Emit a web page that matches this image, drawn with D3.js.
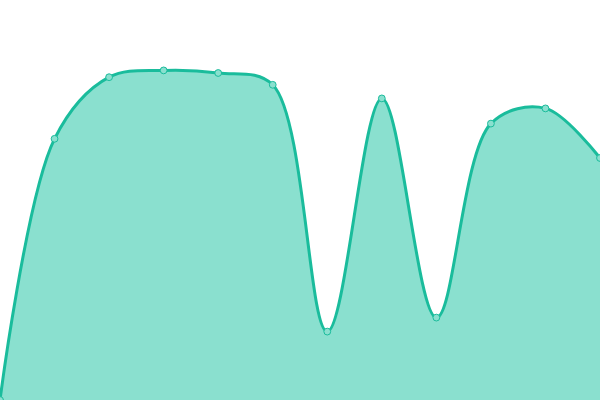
<!DOCTYPE html>
<html>
<head>
<meta charset="utf-8">
<script src="https://cdn.jsdelivr.net/npm/d3@7"></script>
<style>
  html, body { margin: 0; padding: 0; background: #fff; }
  svg { display: block; }
</style>
</head>
<body>
<div class="chart"></div>
<script>
/*** DATA ***/
const categories = [0, 1, 2, 3, 4, 5, 6, 7, 8, 9, 10, 11];
const values = [0, 65.3, 80.7, 82.4, 81.75, 78.8, 17.1, 75.4, 20.6, 69.1, 72.9, 60.5];

/*** DRAW ***/
const width = 600,
      height = 400;

const svg = d3.select('.chart')
  .append('svg')
  .attr('width', width)
  .attr('height', height);

const x = d3.scaleLinear()
  .domain([0, categories.length - 1])
  .range([0, width]);

const y = d3.scaleLinear()
  .domain([0, 100])
  .range([height, 0]);

const data = categories.map((c, i) => ({ c, v: values[i] }));

// centripetal catmull-rom keeps overshoot small
const curve = d3.curveCatmullRom.alpha(0.5);

const area = d3.area()
  .x(d => x(d.c))
  .y0(y(0))
  .y1(d => y(d.v))
  .curve(curve);

const line = d3.line()
  .x(d => x(d.c))
  .y(d => y(d.v))
  .curve(curve);

svg.append('path')
  .datum(data)
  .attr('d', area)
  .style('fill', '#8ae0cf');

svg.append('path')
  .datum(data)
  .attr('d', line)
  .style('fill', 'none')
  .style('stroke', '#1abc9c')
  .style('stroke-width', 3);

svg.append('g')
  .selectAll('circle')
  .data(data)
  .join('circle')
  .attr('cx', d => x(d.c))
  .attr('cy', d => y(d.v))
  .attr('r', 3.4)
  .style('fill', '#8ae0cf')
  .style('stroke', '#1abc9c')
  .style('stroke-width', 1);
</script>
</body>
</html>
